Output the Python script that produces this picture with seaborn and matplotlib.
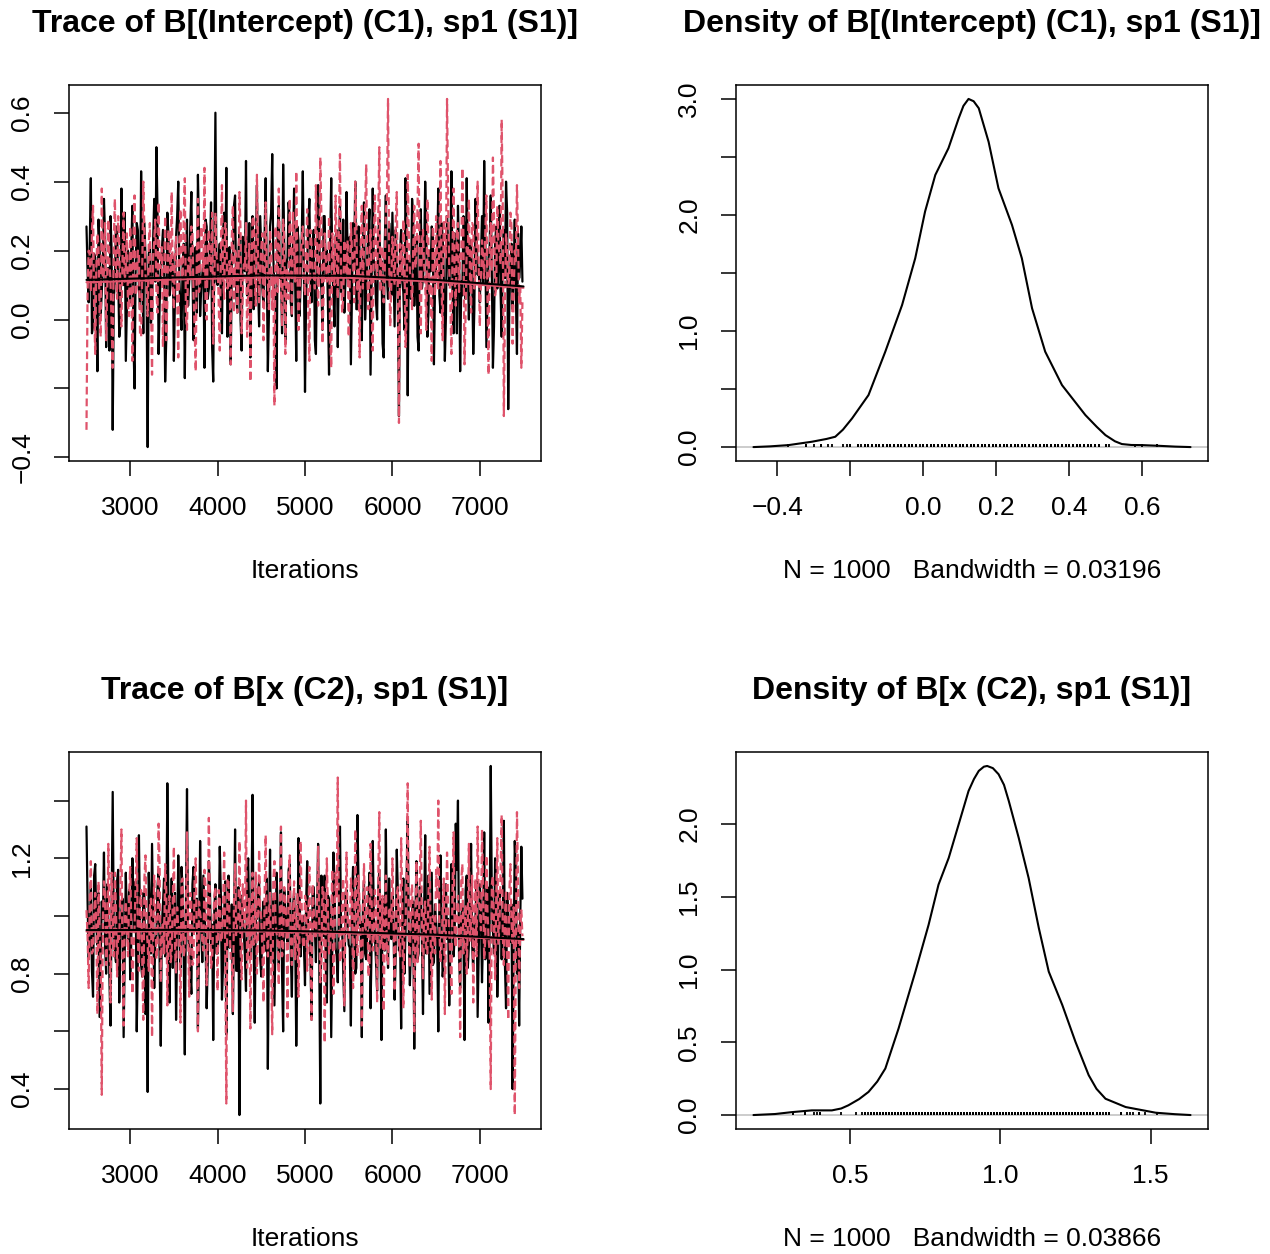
import numpy as np
import matplotlib
matplotlib.use("Agg")
import matplotlib.pyplot as plt
import seaborn as sns

# MCMC output (two chains; draws listed as even / odd positions)
iterations = np.arange(2500, 7500, 12.5)

b1_chain1_even = [
    0.27, 0.05, 0.41, -0.02, 0.18, -0.15, 0.22, 0.08, 0.35, -0.08, 0.15, 0.30, -0.32, 0.12, 0.25, -0.05, 0.38, 0.10, -0.12, 0.20,
    0.05, 0.33, -0.20, 0.28, 0.10, 0.43, -0.04, 0.18, -0.37, 0.22, 0.02, 0.35, 0.50, -0.10, 0.14, 0.26, -0.18, 0.31, 0.07, 0.19,
    -0.12, 0.24, 0.40, 0.03, 0.16, -0.17, 0.29, 0.11, 0.37, -0.06, 0.21, 0.42, 0.01, 0.13, -0.14, 0.27, 0.09, 0.34, -0.18, 0.60,
    0.10, 0.22, -0.04, 0.31, 0.44, 0.06, -0.13, 0.19, 0.36, 0.02, 0.25, -0.09, 0.15, 0.46, 0.08, -0.11, 0.30, 0.12, 0.39, -0.02,
    0.20, 0.04, 0.41, -0.15, 0.27, 0.48, 0.09, -0.20, 0.33, 0.14, 0.45, -0.07, 0.18, 0.29, 0.01, 0.38, -0.12, 0.23, 0.10, 0.43,
    -0.21, 0.16, 0.35, 0.05, 0.26, -0.10, 0.39, 0.12, -0.03, 0.30, 0.20, -0.16, 0.41, 0.07, 0.24, -0.08, 0.33, 0.15, 0.02, 0.37,
    0.11, -0.13, 0.28, 0.40, 0.03, 0.19, -0.06, 0.34, 0.09, 0.25, -0.16, 0.38, 0.13, 0.00, 0.29, 0.17, -0.11, 0.36, 0.06, 0.22,
    0.31, -0.02, 0.18, -0.28, 0.26, 0.08, 0.41, -0.22, 0.14, 0.35, 0.04, 0.23, -0.09, 0.32, 0.12, 0.40, -0.05, 0.20, 0.27, -0.13,
    0.16, 0.38, 0.02, 0.24, -0.12, 0.30, 0.10, 0.43, -0.04, 0.19, 0.33, -0.15, 0.07, 0.27, 0.41, 0.00, 0.21, -0.10, 0.35, 0.13,
    0.05, 0.30, 0.46, -0.08, 0.18, 0.36, -0.14, 0.22, 0.09, 0.33, -0.05, 0.26, 0.40, -0.26, 0.15, 0.03, 0.29, -0.10, 0.12, 0.27,
]
b1_chain1_odd = [
    0.14, 0.22, -0.04, 0.19, 0.08, 0.29, 0.01, 0.16, 0.24, 0.10, -0.09, 0.20, 0.06, 0.27, 0.13, -0.02, 0.18, 0.31, 0.04, 0.12,
    0.21, -0.07, 0.15, 0.26, 0.03, 0.17, 0.28, 0.09, 0.19, -0.01, 0.23, 0.11, 0.32, 0.05, 0.20, 0.14, -0.06, 0.25, 0.10, 0.18,
    0.07, 0.30, 0.12, -0.03, 0.22, 0.16, 0.04, 0.27, 0.13, 0.20, 0.02, 0.25, 0.09, 0.17, 0.29, 0.06, 0.19, -0.08, 0.23, 0.11,
    0.18, 0.05, 0.26, 0.12, -0.05, 0.21, 0.15, 0.33, 0.08, 0.19, 0.00, 0.24, 0.14, 0.07, 0.28, 0.16, 0.03, 0.22, 0.10, 0.30,
    0.09, 0.24, 0.15, 0.02, 0.31, 0.18, 0.07, 0.26, 0.12, -0.04, 0.21, 0.16, 0.34, 0.05, 0.19, 0.11, 0.27, 0.01, 0.23, 0.14,
    0.06, 0.28, 0.13, 0.20, -0.06, 0.17, 0.25, 0.09, 0.30, 0.12, 0.04, 0.22, 0.15, -0.02, 0.26, 0.18, 0.08, 0.29, 0.11, 0.19,
    0.24, 0.08, 0.16, 0.03, 0.27, 0.13, 0.21, 0.00, 0.19, 0.32, 0.10, 0.17, 0.05, 0.25, 0.14, -0.07, 0.22, 0.12, 0.28, 0.07,
    0.15, 0.26, 0.04, 0.20, 0.11, -0.03, 0.23, 0.17, 0.06, 0.29, 0.13, -0.05, 0.21, 0.09, 0.18, 0.27, 0.02, 0.14, 0.24, 0.10,
    0.20, 0.07, 0.28, 0.13, 0.01, 0.22, 0.16, 0.09, 0.25, -0.04, 0.19, 0.11, 0.30, 0.06, 0.17, 0.23, 0.12, 0.03, 0.26, 0.15,
    0.18, 0.10, 0.24, 0.05, 0.21, 0.13, -0.02, 0.27, 0.16, 0.08, 0.20, 0.12, 0.31, 0.04, 0.22, 0.14, 0.07, 0.25, 0.17, 0.11,
]
b1_chain2_even = [
    -0.32, 0.20, 0.08, 0.33, -0.10, 0.25, 0.02, 0.38, 0.14, -0.06, 0.29, 0.11, -0.14, 0.35, 0.06, 0.22, -0.02, 0.31, 0.16, 0.04,
    0.27, -0.12, 0.36, 0.09, 0.19, -0.05, 0.40, 0.13, 0.01, 0.28, -0.16, 0.23, 0.08, 0.34, 0.15, -0.08, 0.30, 0.05, 0.21, 0.37,
    0.03, 0.24, -0.11, 0.32, 0.12, 0.41, -0.03, 0.18, 0.27, 0.07, -0.15, 0.35, 0.10, 0.22, 0.44, 0.00, 0.26, 0.14, -0.07, 0.31,
    0.17, -0.09, 0.39, 0.06, 0.25, 0.11, -0.13, 0.33, 0.20, 0.02, 0.37, -0.04, 0.16, 0.28, 0.08, -0.18, 0.30, 0.13, 0.42, 0.05,
    0.21, -0.06, 0.34, 0.12, 0.26, 0.03, -0.25, 0.19, 0.38, 0.09, 0.29, -0.10, 0.15, 0.35, 0.01, 0.24, 0.43, -0.03, 0.18, 0.27,
    0.07, 0.32, -0.12, 0.22, 0.14, 0.39, 0.04, 0.47, -0.07, 0.25, 0.11, 0.30, -0.14, 0.19, 0.36, 0.06, 0.48, 0.02, 0.23, 0.13,
    -0.05, 0.28, 0.17, 0.40, 0.08, -0.11, 0.33, 0.21, 0.45, 0.03, 0.26, -0.09, 0.36, 0.12, 0.50, 0.19, 0.05, 0.31, 0.64, -0.02,
    0.24, 0.10, 0.37, -0.30, 0.20, 0.29, -0.08, 0.42, 0.14, 0.03, 0.33, 0.18, 0.51, -0.04, 0.26, 0.11, 0.35, 0.07, -0.12, 0.22,
    0.30, 0.09, 0.46, -0.06, 0.25, 0.64, 0.15, -0.10, 0.38, 0.04, 0.28, 0.19, 0.44, -0.13, 0.21, 0.35, 0.02, 0.27, 0.13, 0.40,
    -0.02, 0.23, 0.12, 0.36, -0.16, 0.28, 0.47, 0.07, 0.33, 0.19, 0.58, -0.28, 0.25, 0.10, 0.31, -0.07, 0.20, 0.39, 0.05, -0.14,
]
b1_chain2_odd = [
    0.08, 0.19, 0.26, 0.03, 0.15, 0.21, -0.05, 0.12, 0.28, 0.09, 0.17, -0.02, 0.23, 0.14, 0.30, 0.06, 0.18, 0.11, 0.25, 0.01,
    0.16, 0.24, 0.07, 0.20, -0.04, 0.13, 0.27, 0.10, 0.22, 0.05, 0.18, 0.29, 0.02, 0.15, 0.21, 0.11, -0.06, 0.26, 0.14, 0.09,
    0.19, 0.06, 0.23, 0.15, 0.30, 0.01, 0.17, 0.12, 0.25, -0.03, 0.20, 0.08, 0.27, 0.14, 0.04, 0.22, 0.16, 0.31, 0.10, 0.18,
    0.05, 0.21, 0.13, 0.28, 0.09, 0.17, 0.24, 0.02, 0.19, 0.11, 0.26, 0.07, 0.15, -0.05, 0.22, 0.12, 0.29, 0.04, 0.18, 0.14,
    0.25, 0.10, 0.16, 0.03, 0.21, 0.13, 0.27, 0.08, 0.18, -0.02, 0.24, 0.14, 0.06, 0.20, 0.31, 0.11, 0.17, 0.05, 0.23, 0.12,
    0.19, 0.02, 0.26, 0.14, 0.09, 0.22, 0.16, 0.30, 0.07, 0.18, 0.12, -0.04, 0.25, 0.10, 0.20, 0.28, 0.13, 0.06, 0.17, 0.23,
    0.11, 0.20, 0.05, 0.27, 0.15, 0.22, 0.09, 0.31, 0.13, 0.19, 0.03, 0.24, 0.16, 0.29, 0.08, 0.21, 0.14, 0.36, 0.18, 0.10,
    0.17, 0.28, 0.06, 0.22, 0.13, 0.19, 0.01, 0.25, 0.11, 0.20, 0.15, 0.33, 0.09, 0.23, 0.16, -0.03, 0.21, 0.12, 0.27, 0.07,
    0.14, 0.23, 0.10, 0.29, 0.18, 0.35, 0.05, 0.20, 0.12, 0.26, 0.08, 0.17, 0.24, 0.02, 0.19, 0.13, 0.28, 0.09, 0.21, 0.15,
    0.11, 0.18, 0.25, 0.06, 0.20, 0.14, 0.30, 0.09, 0.22, 0.16, 0.33, 0.04, 0.19, 0.12, 0.27, 0.08, 0.17, 0.23, 0.10, 0.05,
]
b2_chain1_even = [
    1.31, 0.85, 1.10, 0.72, 1.18, 0.90, 0.65, 1.05, 1.22, 0.80, 0.98, 0.62, 1.43, 0.88, 1.12, 0.70, 1.02, 0.58, 1.15, 0.92,
    0.78, 1.20, 0.95, 0.60, 1.28, 0.83, 1.08, 0.66, 0.39, 1.00, 1.25, 0.75, 0.93, 1.16, 0.55, 1.04, 0.86, 1.46, 0.70, 1.13,
    0.97, 0.64, 1.21, 0.82, 1.09, 0.52, 1.44, 0.89, 0.73, 1.17, 0.95, 0.61, 1.26, 0.84, 1.03, 0.68, 1.19, 0.90, 0.57, 1.11,
    0.87, 1.24, 0.71, 1.01, 0.59, 1.14, 0.92, 0.66, 1.30, 0.81, 0.31, 1.07, 0.94, 0.74, 1.20, 0.85, 1.42, 0.63, 0.99, 1.12,
    0.79, 1.05, 0.88, 0.47, 1.23, 0.96, 0.69, 1.15, 0.83, 1.29, 0.60, 1.02, 0.91, 1.18, 0.72, 1.08, 0.55, 1.27, 0.86, 1.00,
    0.76, 1.19, 0.93, 0.64, 1.10, 0.84, 1.25, 0.35, 0.98, 1.14, 0.70, 1.06, 0.58, 1.22, 0.89, 0.77, 1.31, 0.95, 0.67, 1.09,
    0.90, 0.62, 1.17, 0.80, 1.35, 0.97, 0.58, 1.12, 0.85, 1.04, 0.68, 1.26, 0.93, 0.74, 1.16, 0.57, 1.01, 1.30, 0.82, 0.96,
    1.07, 0.71, 1.23, 0.88, 0.61, 1.13, 0.94, 1.33, 0.76, 1.02, 0.54, 1.19, 0.87, 1.09, 0.66, 1.28, 0.91, 0.73, 1.15, 0.84,
    0.98, 0.60, 1.21, 0.79, 1.06, 0.92, 0.69, 1.18, 0.86, 1.32, 1.40, 0.75, 1.03, 0.57, 1.14, 0.90, 1.25, 0.81, 0.99, 0.65,
    1.11, 0.77, 1.29, 0.88, 0.63, 1.52, 0.95, 1.20, 0.72, 1.08, 0.85, 1.33, 0.68, 1.01, 0.91, 0.40, 1.26, 0.80, 0.62, 1.24,
]
b2_chain1_odd = [
    1.05, 0.92, 0.81, 1.14, 0.97, 1.08, 0.86, 0.99, 0.90, 1.11, 0.78, 1.03, 0.95, 0.84, 1.16, 0.93, 1.06, 0.88, 0.98, 1.09,
    0.91, 1.02, 1.12, 0.85, 0.96, 0.79, 1.07, 0.94, 1.15, 0.87, 1.01, 0.92, 1.10, 0.83, 0.97, 1.13, 0.89, 1.04, 0.95, 0.82,
    1.08, 0.90, 0.99, 1.17, 0.86, 1.03, 0.93, 0.80, 1.11, 0.96, 1.06, 0.88, 1.00, 1.14, 0.91, 0.84, 1.09, 0.97, 1.02, 0.87,
    0.94, 1.07, 0.83, 1.12, 0.98, 0.89, 1.04, 0.95, 0.81, 1.10, 0.92, 1.01, 0.86, 1.15, 0.96, 1.05, 0.90, 0.99, 1.08, 0.85,
    1.00, 0.88, 1.13, 0.95, 0.84, 1.06, 0.91, 1.02, 0.97, 0.80, 1.09, 0.93, 1.16, 0.87, 1.03, 0.94, 0.82, 1.11, 0.98, 0.90,
    1.04, 0.92, 0.85, 1.10, 0.96, 1.01, 0.88, 1.14, 0.93, 0.83, 1.07, 0.99, 0.90, 1.12, 0.86, 1.02, 0.95, 0.81, 1.08, 0.97,
    0.89, 1.05, 0.94, 0.82, 1.11, 0.98, 1.03, 0.87, 0.96, 1.15, 0.91, 1.00, 0.84, 1.09, 0.95, 1.06, 0.88, 0.99, 1.13, 0.92,
    0.97, 0.86, 1.08, 0.93, 1.02, 0.80, 1.12, 0.95, 0.90, 1.05, 0.98, 0.85, 1.10, 0.92, 1.01, 0.87, 1.14, 0.94, 0.83, 1.04,
    0.91, 1.07, 0.96, 0.84, 1.11, 0.99, 0.88, 1.03, 0.93, 1.16, 0.86, 1.00, 0.95, 1.09, 0.82, 1.05, 0.90, 0.97, 1.12, 0.89,
    1.02, 0.94, 0.85, 1.10, 0.98, 1.06, 0.87, 1.13, 0.92, 1.00, 0.96, 0.83, 1.08, 0.91, 1.04, 0.89, 1.15, 0.95, 0.99, 1.06,
]
b2_chain2_even = [
    1.02, 0.75, 1.19, 0.88, 1.08, 0.66, 0.94, 0.38, 1.12, 0.83, 1.25, 0.70, 0.99, 1.15, 0.79, 0.92, 1.30, 0.62, 1.05, 0.86,
    1.17, 0.73, 0.96, 1.27, 0.81, 1.09, 0.64, 1.21, 0.90, 1.03, 0.58, 1.14, 0.85, 1.32, 0.77, 0.98, 1.18, 0.69, 1.07, 0.87,
    1.24, 0.80, 0.95, 0.63, 1.13, 0.89, 1.29, 0.72, 1.04, 0.84, 1.20, 0.60, 1.01, 0.91, 1.16, 0.76, 1.34, 0.82, 0.97, 1.10,
    0.74, 1.06, 0.92, 1.22, 0.35, 1.12, 0.85, 0.67, 1.18, 0.97, 1.26, 0.78, 1.03, 1.40, 0.88, 0.61, 1.15, 0.93, 0.80, 1.23,
    0.99, 0.70, 1.28, 0.86, 1.08, 0.59, 1.19, 0.94, 0.76, 1.31, 0.89, 1.05, 0.65, 1.21, 0.83, 1.12, 0.97, 0.72, 1.26, 0.91,
    1.07, 0.81, 1.17, 0.64, 1.02, 0.93, 1.24, 0.77, 1.10, 0.56, 1.20, 0.87, 1.00, 0.73, 1.15, 1.48, 0.84, 1.06, 0.69, 1.22,
    0.92, 1.13, 0.75, 1.30, 0.86, 1.04, 0.62, 1.18, 0.95, 0.79, 1.25, 0.88, 1.09, 0.70, 1.36, 0.91, 0.67, 1.14, 0.83, 1.01,
    1.20, 0.74, 1.08, 0.90, 1.27, 0.68, 0.97, 1.46, 0.82, 1.11, 0.60, 1.19, 0.93, 1.33, 0.78, 1.05, 0.87, 1.24, 0.71, 0.99,
    1.16, 1.40, 0.84, 1.02, 0.66, 1.22, 0.95, 0.73, 1.29, 0.89, 1.07, 0.58, 1.18, 0.94, 0.80, 1.25, 0.99, 0.70, 1.13, 1.31,
    1.03, 1.30, 0.85, 1.21, 0.92, 0.40, 1.14, 0.78, 1.27, 0.97, 1.35, 0.83, 1.09, 0.64, 1.18, 0.90, 0.31, 1.36, 0.75, 1.02,
]
b2_chain2_odd = [
    0.93, 1.06, 0.87, 1.01, 0.96, 1.12, 0.84, 0.99, 1.08, 0.90, 0.97, 1.15, 0.86, 1.03, 0.94, 1.10, 0.82, 1.00, 0.95, 1.07,
    0.98, 0.88, 1.11, 0.92, 1.04, 0.85, 1.13, 0.96, 0.81, 1.06, 0.93, 1.02, 0.89, 1.16, 0.95, 0.87, 1.09, 0.99, 0.84, 1.05,
    0.90, 1.03, 0.97, 1.12, 0.86, 1.00, 0.94, 1.08, 0.83, 1.14, 0.92, 1.05, 0.98, 0.88, 1.10, 0.95, 1.01, 0.85, 1.07, 0.96,
    1.09, 0.91, 1.02, 0.87, 1.13, 0.97, 0.84, 1.05, 0.93, 1.00, 0.89, 1.11, 0.96, 0.82, 1.06, 0.99, 0.90, 1.15, 0.94, 1.03,
    0.88, 1.07, 0.95, 1.01, 0.83, 1.12, 0.98, 0.91, 1.04, 0.86, 1.10, 0.97, 1.14, 0.92, 1.00, 0.85, 1.08, 0.94, 1.02, 0.89,
    1.05, 0.96, 0.87, 1.11, 0.93, 1.03, 0.99, 0.84, 1.09, 0.95, 1.01, 0.88, 1.16, 0.92, 1.06, 0.98, 0.86, 1.13, 0.97, 1.00,
    0.94, 1.08, 0.90, 0.99, 1.14, 0.87, 1.02, 0.96, 1.10, 0.83, 1.05, 0.93, 1.00, 1.12, 0.89, 1.07, 0.95, 0.85, 1.03, 0.98,
    1.01, 0.92, 1.10, 0.86, 1.04, 0.97, 1.15, 0.90, 1.06, 0.94, 0.99, 0.84, 1.11, 0.96, 1.02, 0.88, 1.08, 0.93, 1.00, 0.87,
    1.06, 0.95, 0.89, 1.13, 0.98, 1.03, 0.85, 1.09, 0.93, 1.01, 0.96, 1.12, 0.87, 1.04, 0.97, 0.91, 1.14, 0.99, 0.86, 1.05,
    0.95, 1.09, 0.92, 1.02, 0.88, 1.11, 0.97, 1.05, 0.90, 1.15, 0.94, 1.00, 0.86, 1.08, 0.98, 1.03, 0.89, 1.12, 0.96, 0.93,
]

# smoothed trend lines (one per chain)
smooth_iter = [2500, 3500, 4500, 5500, 6500, 7500]
b1_smooth_c1 = [0.115, 0.122, 0.128, 0.127, 0.115, 0.096]
b1_smooth_c2 = [0.108, 0.116, 0.122, 0.121, 0.110, 0.092]
b2_smooth_c1 = [0.951, 0.952, 0.950, 0.944, 0.935, 0.920]
b2_smooth_c2 = [0.946, 0.947, 0.946, 0.940, 0.931, 0.917]

# kernel density curves
b1_dens_x = [-0.465, -0.420, -0.369, -0.305, -0.265, -0.241, -0.220, -0.195, -0.150, -0.104, -0.058, -0.022,
             0.005, 0.033, 0.069, 0.097, 0.110, 0.124, 0.138, 0.152, 0.179, 0.206, 0.243, 0.270, 0.298,
             0.334, 0.380, 0.444, 0.475, 0.499, 0.525, 0.544, 0.570, 0.599, 0.645, 0.690, 0.732]
b1_dens_y = [0.0, 0.006, 0.017, 0.046, 0.070, 0.089, 0.150, 0.247, 0.448, 0.822, 1.224, 1.627,
             2.03, 2.345, 2.575, 2.833, 2.94, 3.0, 2.98, 2.92, 2.63, 2.23, 1.914, 1.627, 1.196,
             0.822, 0.534, 0.276, 0.175, 0.103, 0.050, 0.026, 0.018, 0.017, 0.011, 0.004, 0.0]
b2_dens_x = [0.178, 0.250, 0.306, 0.372, 0.439, 0.470, 0.494, 0.530, 0.561, 0.590, 0.617, 0.661, 0.717,
             0.761, 0.794, 0.828, 0.861, 0.894, 0.912, 0.928, 0.945, 0.956, 0.975, 0.994, 1.012, 1.028,
             1.061, 1.094, 1.128, 1.161, 1.206, 1.25, 1.294, 1.320, 1.35, 1.417, 1.517, 1.580, 1.633]
b2_dens_y = [0.0, 0.007, 0.02, 0.032, 0.032, 0.045, 0.067, 0.110, 0.159, 0.230, 0.32, 0.595, 0.986,
             1.308, 1.584, 1.768, 1.998, 2.228, 2.31, 2.366, 2.395, 2.40, 2.385, 2.343, 2.27, 2.159,
             1.906, 1.63, 1.285, 0.986, 0.757, 0.503, 0.274, 0.180, 0.112, 0.055, 0.016, 0.006, 0.0]

titles = ["Trace of B[(Intercept) (C1), sp1 (S1)]", "Density of B[(Intercept) (C1), sp1 (S1)]",
          "Trace of B[x (C2), sp1 (S1)]", "Density of B[x (C2), sp1 (S1)]"]
dens_labels = ["N = 1000   Bandwidth = 0.03196", "N = 1000   Bandwidth = 0.03866"]

sns.set_style("ticks")
plt.rcParams['font.family'] = ['Liberation Sans', 'DejaVu Sans']
plt.rcParams.update({"text.color": "black", "axes.labelcolor": "black",
                     "xtick.color": "black", "ytick.color": "black"})

PINK = "#DF536B"
W, H = 1270, 1254
fig = plt.figure(figsize=(W / 100, H / 100), dpi=100)


def merge(even, odd):
    # put the two halves of a chain back in draw order
    return np.column_stack([even, odd]).ravel()


def add_box(x0, y0, x1, y1):
    ax = fig.add_axes([x0 / W, 1 - y1 / H, (x1 - x0) / W, (y1 - y0) / H])
    for s in ax.spines.values():
        s.set_linewidth(1.1)
        s.set_color("black")
    ax.margins(0.04)
    ax.tick_params(direction="out", length=11, width=1.1, labelsize=19, pad=14, colors="black")
    ax.tick_params(axis="y", labelrotation=90)
    return ax


def style_text(ax, title, xlabel):
    ax.set_title(title, fontsize=23, fontweight="bold", pad=38, color="black")
    ax.set_xlabel(xlabel, fontsize=19, labelpad=28)


def trace_panel(ax, c1, c2, sm1, sm2):
    sns.lineplot(x=iterations, y=c1, ax=ax, color="black", lw=1.6, estimator=None, sort=False)
    sns.lineplot(x=iterations, y=c2, ax=ax, color=PINK, lw=1.6, estimator=None, sort=False,
                 linestyle=(0, (3.5, 1.8)))
    sns.lineplot(x=smooth_iter, y=sm2, ax=ax, color=PINK, lw=1.5, estimator=None, sort=False)
    sns.lineplot(x=smooth_iter, y=sm1, ax=ax, color="black", lw=1.5, estimator=None, sort=False)
    ax.set_xticks([3000, 4000, 5000, 6000, 7000])


def dens_panel(ax, dx, dy, c1, c2):
    ax.axhline(0, color="#BEBEBE", lw=1.1, zorder=1)
    sns.lineplot(x=dx, y=dy, ax=ax, color="black", lw=1.5, estimator=None, sort=False)
    obs = np.concatenate([c1, c2])
    ax.vlines(obs, 0, max(dy) / 100, color="black", lw=1.3)


b1_c1 = merge(b1_chain1_even, b1_chain1_odd)
b1_c2 = merge(b1_chain2_even, b1_chain2_odd)
b2_c1 = merge(b2_chain1_even, b2_chain1_odd)
b2_c2 = merge(b2_chain2_even, b2_chain2_odd)

# top-left: trace of intercept
ax = add_box(69, 85, 541, 461)
trace_panel(ax, b1_c1, b1_c2, b1_smooth_c1, b1_smooth_c2)
ax.set_yticks([-0.4, -0.2, 0.0, 0.2, 0.4, 0.6])
ax.set_yticklabels(["\u22120.4", "", "0.0", "0.2", "0.4", "0.6"], va="center")
style_text(ax, titles[0], "Iterations")

# top-right: density of intercept
ax = add_box(736, 85, 1208, 461)
dens_panel(ax, b1_dens_x, b1_dens_y, b1_c1, b1_c2)
ax.set_xticks([-0.4, -0.2, 0.0, 0.2, 0.4, 0.6])
ax.set_xticklabels(["\u22120.4", "", "0.0", "0.2", "0.4", "0.6"])
ax.set_yticks([0.0, 0.5, 1.0, 1.5, 2.0, 2.5, 3.0])
ax.set_yticklabels(["0.0", "", "1.0", "", "2.0", "", "3.0"], va="center")
style_text(ax, titles[1], dens_labels[0])

# bottom-left: trace of slope
ax = add_box(69, 752, 541, 1129)
trace_panel(ax, b2_c1, b2_c2, b2_smooth_c1, b2_smooth_c2)
ax.set_yticks([0.4, 0.6, 0.8, 1.0, 1.2, 1.4])
ax.set_yticklabels(["0.4", "", "0.8", "", "1.2", ""], va="center")
style_text(ax, titles[2], "Iterations")

# bottom-right: density of slope
ax = add_box(736, 752, 1208, 1129)
dens_panel(ax, b2_dens_x, b2_dens_y, b2_c1, b2_c2)
ax.set_xticks([0.5, 1.0, 1.5])
ax.set_xticklabels(["0.5", "1.0", "1.5"])
ax.set_yticks([0.0, 0.5, 1.0, 1.5, 2.0])
ax.set_yticklabels(["0.0", "0.5", "1.0", "1.5", "2.0"], va="center")
style_text(ax, titles[3], dens_labels[1])

fig.savefig("out.png", dpi=100, facecolor="white")
